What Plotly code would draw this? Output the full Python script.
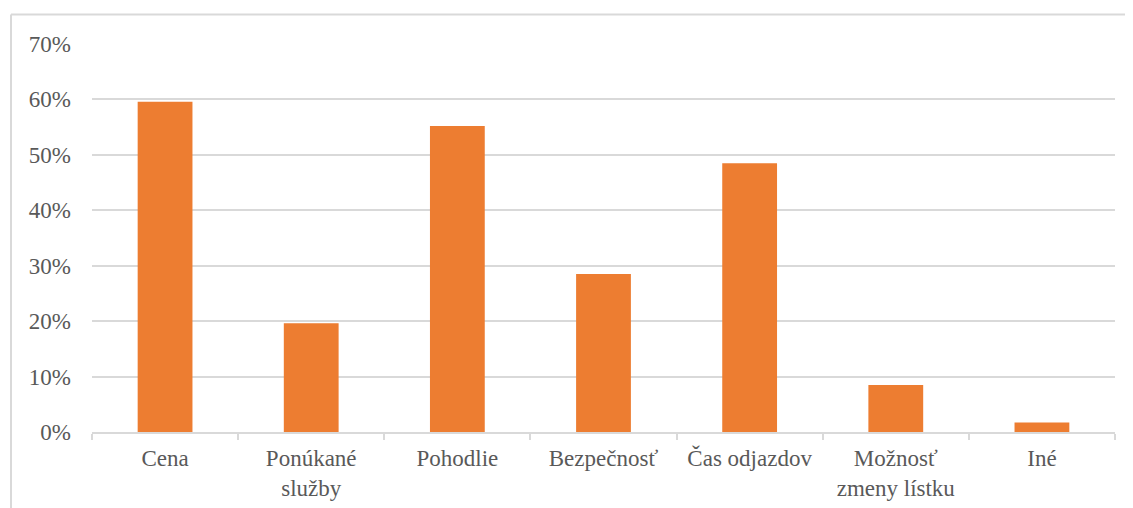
import plotly.graph_objects as go

categories = ["Cena", "Ponúkané<br>služby", "Pohodlie", "Bezpečnosť", "Čas odjazdov",
              "Možnosť<br>zmeny lístku", "Iné"]
values = [0.596, 0.196, 0.552, 0.285, 0.485, 0.085, 0.017]
tick_vals = [0, 0.1, 0.2, 0.3, 0.4, 0.5, 0.6, 0.7]

# page body has an 8px margin, so the figure is laid out in shifted coordinates
W, H = 1133, 508
L, R, T, B = 84, 26, 36, 84

fig = go.Figure()
fig.add_trace(go.Bar(
    x=categories, y=values,
    marker=dict(color="#ED7D31", line=dict(width=0)),
    width=0.375,
))

# chart area border (left and top edges visible)
bx = (3 - L) / (W - L - R)
by = (H - B - 6.5) / (H - T - B)
fig.add_shape(type="line", xref="paper", yref="paper", x0=bx, x1=bx, y0=by, y1=-0.3,
              line=dict(color="#d9d9d9", width=2))
fig.add_shape(type="line", xref="paper", yref="paper", x0=bx, x1=1.1, y0=by, y1=by,
              line=dict(color="#d9d9d9", width=2))

font = dict(family="Liberation Serif, Times New Roman, serif", size=23, color="#595959")
fig.update_layout(
    width=W, height=H, autosize=False,
    margin=dict(l=L, r=R, t=T, b=B),
    paper_bgcolor="white", plot_bgcolor="white",
    showlegend=False, font=font, bargap=0.625,
)
fig.update_xaxes(
    tickson="boundaries", ticks="outside", ticklen=6, tickcolor="#d9d9d9", tickwidth=1.5,
    showline=True, linecolor="#d9d9d9", linewidth=1.5, showgrid=False,
    tickfont=font, ticklabelstandoff=5,
)
fig.update_yaxes(
    range=[0, 0.7], tickvals=tick_vals, tickformat=".0%",
    showgrid=True, gridcolor="#d9d9d9", gridwidth=1.5, zeroline=False,
    showline=False, ticks="", tickfont=font, ticklabelstandoff=20,
)

fig.write_html("out.html")
